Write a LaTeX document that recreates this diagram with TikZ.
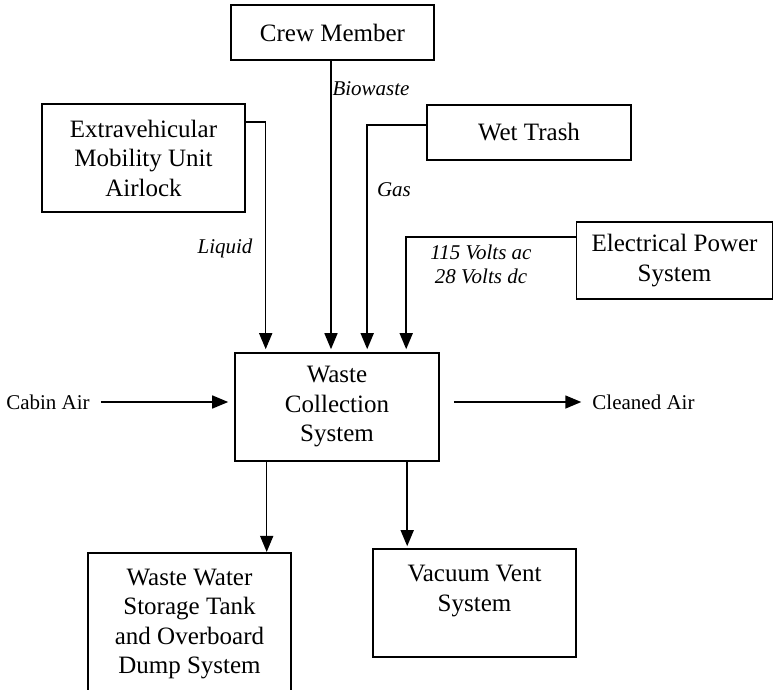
\documentclass[tikz,border=0pt]{standalone}
\usepackage{fontspec}
\setmainfont{Liberation Serif}
\usetikzlibrary{arrows.meta}
\begin{document}
\begin{tikzpicture}[x=1pt,y=-1pt,
  box/.style={draw,line width=1.6pt,align=center,inner sep=0pt,font=\fontsize{25}{29.5}\selectfont},
  lbl/.style={align=center,inner sep=0pt,font=\fontsize{21}{24}\selectfont\itshape},
  side/.style={align=center,inner sep=0pt,font=\fontsize{21}{24}\selectfont},
  arr/.style={line width=1.5pt,-{Triangle[length=16pt,width=13pt]}}]
\clip (0,0) rectangle (774,689);
\useasboundingbox (0,0) rectangle (774,689);
\node[box,minimum width=203pt,minimum height=55pt] (crew) at (332.5,32.5) {Crew Member};
\node[box,minimum width=203pt,minimum height=108pt] (emu) at (143.5,158) {Extravehicular\\Mobility Unit\\Airlock};
\node[box,minimum width=204pt,minimum height=55pt] (wet) at (529,132.5) {Wet Trash};
\node[box,minimum width=196pt,minimum height=77pt] (elec) at (674.5,260.5) {Electrical Power\\System};
\node[box,minimum width=204pt,minimum height=108pt] (waste) at (337,407) {Waste\\Collection\\System};
\node[box,minimum width=203pt,minimum height=167pt] (ww) at (189.5,636.25) {Waste Water\\Storage Tank\\and Overboard\\Dump System\\\mbox{}};
\node[box,minimum width=203pt,minimum height=108pt] (vac) at (474.5,603) {Vacuum Vent\\System\\\mbox{}};
\node[side] (cabin) at (48,402) {Cabin Air};
\node[side] (clean) at (643.5,402) {Cleaned Air};
\node[lbl] (bio) at (371,89) {Biowaste};
\node[lbl] (gas) at (394,190) {Gas};
\node[lbl] (liq) at (225,248) {Liquid};
\node[lbl] (volt) at (481,264) {115 Volts ac\\28 Volts dc};
\draw[arr,shorten >=3pt] ([yshift=-19pt]emu.north east) -| ([xshift=31.5pt]waste.north west);
\draw[arr,shorten >=3pt] ([xshift=-1.5pt]crew.south) -- ([xshift=-6pt]waste.north);
\draw[arr,shorten >=3pt] ([yshift=-21pt]wet.north west) -| ([xshift=133pt]waste.north west);
\draw[arr,shorten >=3pt] ([yshift=-16pt]elec.north west) -| ([xshift=172pt]waste.north west);
\draw[arr,shorten <=11pt,shorten >=6pt] (cabin.east) -- (cabin.east -| waste.west);
\draw[arr,shorten <=14pt,shorten >=11pt] (waste.east |- clean.west) -- (clean.west);
\draw[arr] ([xshift=32.5pt]waste.south west) -- ([xshift=32.5pt]waste.south west |- ww.north);
\draw[arr,shorten >=2pt] ([xshift=173pt]waste.south west) -- ([xshift=173pt]waste.south west |- vac.north);
\end{tikzpicture}
\end{document}
